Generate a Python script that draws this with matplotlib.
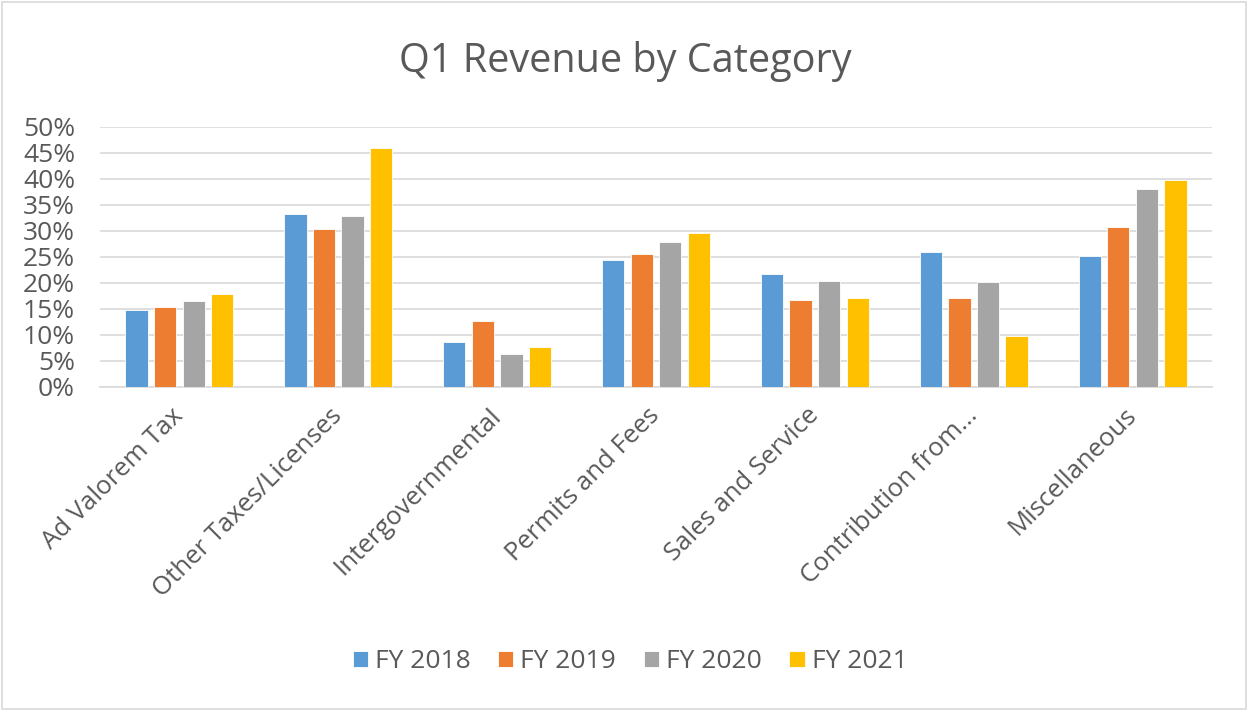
import numpy as np
import matplotlib.pyplot as plt
from matplotlib.patches import Rectangle
from matplotlib.ticker import PercentFormatter

categories = ["Ad Valorem Tax", "Other Taxes/Licenses", "Intergovernmental",
              "Permits and Fees", "Sales and Service", "Contribution from...",
              "Miscellaneous"]
years = ["FY 2018", "FY 2019", "FY 2020", "FY 2021"]

fy2018 = [14.9, 33.2, 8.6, 24.4, 21.7, 26.0, 25.1]
fy2019 = [15.3, 30.3, 12.6, 25.6, 16.8, 17.1, 30.8]
fy2020 = [16.5, 32.9, 6.4, 27.8, 20.4, 20.1, 38.1]
fy2021 = [17.8, 46.0, 7.7, 29.6, 17.1, 9.8, 39.9]

colors = ["#5b9bd5", "#ed7d31", "#a5a5a5", "#ffc000"]
text_color = "#595959"

plt.rcParams['font.family'] = ['Open Sans', 'DejaVu Sans']

fig = plt.figure(figsize=(12.48, 7.11), dpi=100)
ax = fig.add_axes([100 / 1248, 1 - 387 / 711, 1112 / 1248, 260 / 711])

x = np.arange(len(categories))
width = 0.14
step = 0.18
for i, (vals, lab) in enumerate(zip([fy2018, fy2019, fy2020, fy2021], years)):
    ax.bar(x + (i - 1.5) * step, vals, width, color=colors[i], label=lab,
           edgecolor="white", linewidth=0.6, zorder=3)

ax.set_xlim(-0.5, len(categories) - 0.5)
ax.set_ylim(0, 50)
ax.set_yticks(np.arange(0, 51, 5))
ax.yaxis.set_major_formatter(PercentFormatter(decimals=0))
ax.grid(axis="y", color="#d9d9d9", linewidth=1.2, zorder=0)
for s in ["top", "right", "left"]:
    ax.spines[s].set_visible(False)
ax.spines["bottom"].set_color("#d9d9d9")
ax.spines["bottom"].set_linewidth(1.2)
ax.tick_params(axis="y", length=0, labelsize=19, labelcolor=text_color, pad=18)
ax.tick_params(axis="x", length=0, labelsize=18.5, labelcolor=text_color, pad=18)
ax.set_xticks(x)
ax.set_xticklabels(categories, rotation=45, ha="right", va="center",
                   rotation_mode="anchor")
for lbl in ax.get_xticklabels():
    lbl.set_x(lbl.get_position()[0])

fig.text(625 / 1248, 1 - 72 / 711, "Q1 Revenue by Category", ha="center",
         va="baseline", fontsize=28.5, color=text_color)

fig.legend(loc="center", bbox_to_anchor=(630 / 1248, 1 - 662 / 711), ncol=4,
           frameon=False, fontsize=19, labelcolor=text_color, handlelength=0.57,
           handleheight=0.57, handletextpad=0.27, columnspacing=1.05)

fig.patches.append(Rectangle((2 / 1248, 2 / 711), 1 - 4 / 1248, 1 - 4 / 711,
                             transform=fig.transFigure, fill=False,
                             edgecolor="#d9d9d9", linewidth=1.2))

fig.savefig("out.png", dpi=100)
